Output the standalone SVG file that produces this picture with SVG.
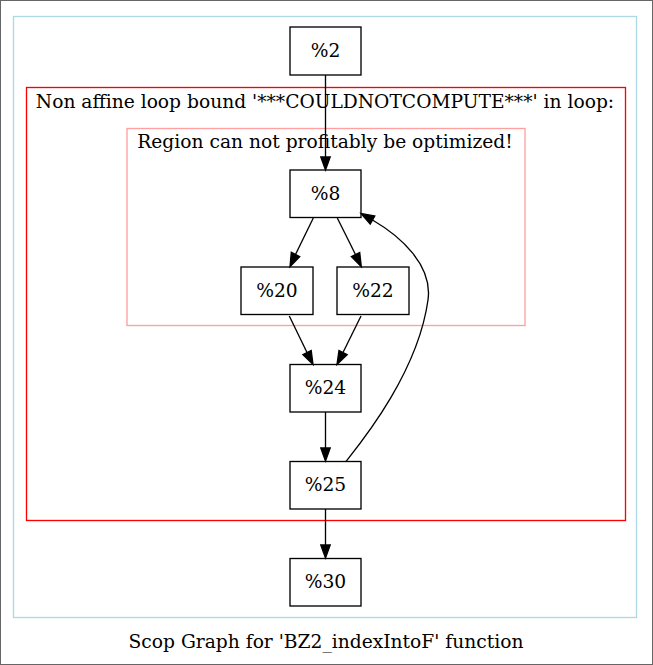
<svg xmlns="http://www.w3.org/2000/svg" width="653" height="665" viewBox="0 0 653 665">
<style>
text{font-family:"DejaVu Serif",serif;font-size:18.67px;fill:#000}
.n rect{fill:none;stroke:#000;stroke-width:1.33}
.e path{fill:none;stroke:#000;stroke-width:1.33}
.e polygon{fill:#000;stroke:#000;stroke-width:1.33}
</style>
<rect x="0.5" y="0.5" width="652" height="664" fill="#fff" stroke="#666"/>
<g id="cluster_outer"><rect x="13.5" y="16.5" width="623" height="601" fill="none" stroke="#add8e6" stroke-width="1.33"/></g>
<g id="cluster_loop"><rect x="26.5" y="87.5" width="599" height="433" fill="none" stroke="#ff0000" stroke-width="1.33"/>
<text x="325" y="108" text-anchor="middle">Non affine loop bound '***COULDNOTCOMPUTE***' in loop:</text></g>
<g id="cluster_region"><rect x="127" y="128.5" width="398" height="197" fill="none" stroke="#ff9f9f" stroke-width="1.33"/>
<text x="325" y="148" text-anchor="middle">Region can not profitably be optimized!</text></g>
<g class="e" id="edges">
<path d="M325.5,75 L325.5,157"/><polygon points="320.8,157 325.5,170 330.2,157"/>
<path d="M313.3,218 L295.5,254.5"/><polygon points="291.3,252.4 290,266.7 299.7,256.6"/>
<path d="M337.3,218 L355.5,254.5"/><polygon points="351.3,256.6 361.3,266.7 359.7,252.4"/>
<path d="M346,461.5 C363,440 418,372 428,300 C433,265 400,236 372.5,220"/><polygon points="370.2,224.1 361,213.5 374.8,215.9"/>
<path d="M289.3,316 L307,352.5"/><polygon points="302.8,354.6 313,364.5 311.2,350.4"/>
<path d="M361,316 L343,352.5"/><polygon points="339,350.4 337,364.5 347.2,354.6"/>
<path d="M325.5,412 L325.5,448"/><polygon points="320.8,448 325.5,461 330.2,448"/>
<path d="M325.5,509 L325.5,545"/><polygon points="320.8,545 325.5,558 330.2,545"/>
</g>
<g class="n" id="n2"><rect x="290" y="27" width="71" height="48"/><text x="325.5" y="57" text-anchor="middle">%2</text></g>
<g class="n" id="n8"><rect x="290" y="170" width="71" height="47.5"/><text x="325.5" y="200" text-anchor="middle">%8</text></g>
<g class="n" id="n20"><rect x="241" y="267" width="72" height="47.5"/><text x="277" y="297" text-anchor="middle">%20</text></g>
<g class="n" id="n22"><rect x="337" y="267" width="72" height="47.5"/><text x="373" y="297" text-anchor="middle">%22</text></g>
<g class="n" id="n24"><rect x="290" y="364.5" width="71" height="47.5"/><text x="325.5" y="394" text-anchor="middle">%24</text></g>
<g class="n" id="n25"><rect x="290" y="461.5" width="71" height="47.5"/><text x="325.5" y="491" text-anchor="middle">%25</text></g>
<g class="n" id="n30"><rect x="290" y="558.5" width="71" height="47.5"/><text x="325.5" y="588" text-anchor="middle">%30</text></g>
<text x="326" y="648" text-anchor="middle">Scop Graph for 'BZ2_indexIntoF' function</text>
</svg>
